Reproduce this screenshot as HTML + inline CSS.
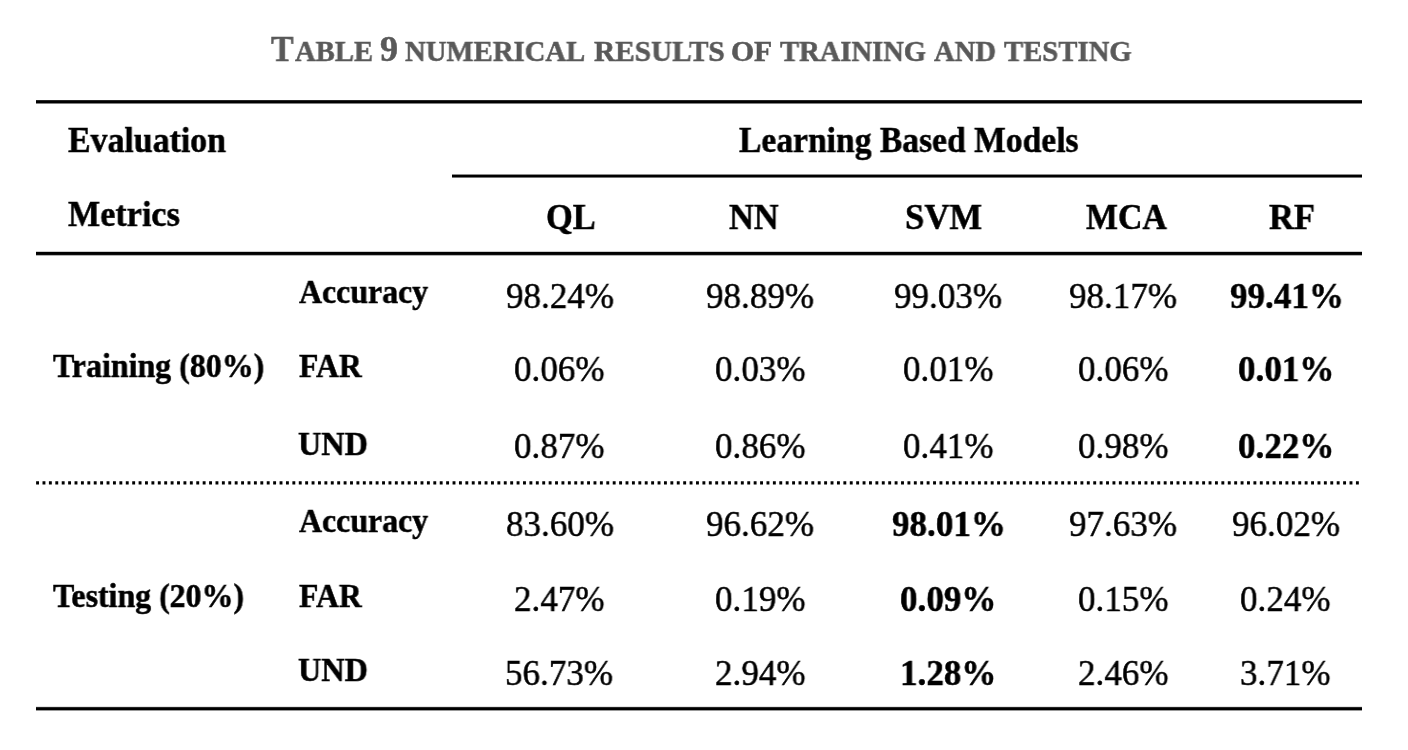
<!DOCTYPE html>
<html><head><meta charset="utf-8"><style>
html,body{margin:0;padding:0;background:#fff;width:1408px;height:750px;overflow:hidden}
body{position:relative}
.t,#title{position:absolute;will-change:transform;-webkit-text-stroke:0.5px currentColor;font-family:"Liberation Serif",serif;line-height:1;white-space:nowrap;transform-origin:0 0;color:#000}
.b{font-weight:bold}
.t.g{color:#595959}
.rule{position:absolute;background:#000}
</style></head><body><div id="wrap">

<div class="rule" style="left:36.0px;top:100px;width:1326.0px;height:4px;background:linear-gradient(to bottom,rgba(0,0,0,0.85) 0px,rgba(0,0,0,0.85) 1px,rgba(0,0,0,1.00) 1px,rgba(0,0,0,1.00) 2px,rgba(0,0,0,1.00) 2px,rgba(0,0,0,1.00) 3px,rgba(0,0,0,0.50) 3px,rgba(0,0,0,0.50) 4px)"></div>
<div class="rule" style="left:452.0px;top:174px;width:910.0px;height:4px;background:linear-gradient(to bottom,rgba(0,0,0,0.45) 0px,rgba(0,0,0,0.45) 1px,rgba(0,0,0,1.00) 1px,rgba(0,0,0,1.00) 2px,rgba(0,0,0,1.00) 2px,rgba(0,0,0,1.00) 3px,rgba(0,0,0,0.55) 3px,rgba(0,0,0,0.55) 4px)"></div>
<div class="rule" style="left:36.0px;top:251px;width:1326.0px;height:5px;background:linear-gradient(to bottom,rgba(0,0,0,0.20) 0px,rgba(0,0,0,0.20) 1px,rgba(0,0,0,1.00) 1px,rgba(0,0,0,1.00) 2px,rgba(0,0,0,1.00) 2px,rgba(0,0,0,1.00) 3px,rgba(0,0,0,0.95) 3px,rgba(0,0,0,0.95) 4px,rgba(0,0,0,0.30) 4px,rgba(0,0,0,0.30) 5px)"></div>
<div class="rule" style="left:36.0px;top:706px;width:1326.0px;height:5px;background:linear-gradient(to bottom,rgba(0,0,0,0.10) 0px,rgba(0,0,0,0.10) 1px,rgba(0,0,0,0.85) 1px,rgba(0,0,0,0.85) 2px,rgba(0,0,0,1.00) 2px,rgba(0,0,0,1.00) 3px,rgba(0,0,0,1.00) 3px,rgba(0,0,0,1.00) 4px,rgba(0,0,0,0.40) 4px,rgba(0,0,0,0.40) 5px)"></div>
<svg style="position:absolute;left:0;top:0" width="1408" height="750"><path fill="#000" d="M36.10 481.3h2.9v3.2h-2.9zM42.51 481.3h2.9v3.2h-2.9zM48.91 481.3h2.9v3.2h-2.9zM55.32 481.3h2.9v3.2h-2.9zM61.73 481.3h2.9v3.2h-2.9zM68.13 481.3h2.9v3.2h-2.9zM74.54 481.3h2.9v3.2h-2.9zM80.95 481.3h2.9v3.2h-2.9zM87.36 481.3h2.9v3.2h-2.9zM93.76 481.3h2.9v3.2h-2.9zM100.17 481.3h2.9v3.2h-2.9zM106.58 481.3h2.9v3.2h-2.9zM112.98 481.3h2.9v3.2h-2.9zM119.39 481.3h2.9v3.2h-2.9zM125.80 481.3h2.9v3.2h-2.9zM132.21 481.3h2.9v3.2h-2.9zM138.61 481.3h2.9v3.2h-2.9zM145.02 481.3h2.9v3.2h-2.9zM151.43 481.3h2.9v3.2h-2.9zM157.83 481.3h2.9v3.2h-2.9zM164.24 481.3h2.9v3.2h-2.9zM170.65 481.3h2.9v3.2h-2.9zM177.05 481.3h2.9v3.2h-2.9zM183.46 481.3h2.9v3.2h-2.9zM189.87 481.3h2.9v3.2h-2.9zM196.28 481.3h2.9v3.2h-2.9zM202.68 481.3h2.9v3.2h-2.9zM209.09 481.3h2.9v3.2h-2.9zM215.50 481.3h2.9v3.2h-2.9zM221.90 481.3h2.9v3.2h-2.9zM228.31 481.3h2.9v3.2h-2.9zM234.72 481.3h2.9v3.2h-2.9zM241.12 481.3h2.9v3.2h-2.9zM247.53 481.3h2.9v3.2h-2.9zM253.94 481.3h2.9v3.2h-2.9zM260.35 481.3h2.9v3.2h-2.9zM266.75 481.3h2.9v3.2h-2.9zM273.16 481.3h2.9v3.2h-2.9zM279.57 481.3h2.9v3.2h-2.9zM285.97 481.3h2.9v3.2h-2.9zM292.38 481.3h2.9v3.2h-2.9zM298.79 481.3h2.9v3.2h-2.9zM305.19 481.3h2.9v3.2h-2.9zM311.60 481.3h2.9v3.2h-2.9zM318.01 481.3h2.9v3.2h-2.9zM324.42 481.3h2.9v3.2h-2.9zM330.82 481.3h2.9v3.2h-2.9zM337.23 481.3h2.9v3.2h-2.9zM343.64 481.3h2.9v3.2h-2.9zM350.04 481.3h2.9v3.2h-2.9zM356.45 481.3h2.9v3.2h-2.9zM362.86 481.3h2.9v3.2h-2.9zM369.26 481.3h2.9v3.2h-2.9zM375.67 481.3h2.9v3.2h-2.9zM382.08 481.3h2.9v3.2h-2.9zM388.49 481.3h2.9v3.2h-2.9zM394.89 481.3h2.9v3.2h-2.9zM401.30 481.3h2.9v3.2h-2.9zM407.71 481.3h2.9v3.2h-2.9zM414.11 481.3h2.9v3.2h-2.9zM420.52 481.3h2.9v3.2h-2.9zM426.93 481.3h2.9v3.2h-2.9zM433.33 481.3h2.9v3.2h-2.9zM439.74 481.3h2.9v3.2h-2.9zM446.15 481.3h2.9v3.2h-2.9zM452.56 481.3h2.9v3.2h-2.9zM458.96 481.3h2.9v3.2h-2.9zM465.37 481.3h2.9v3.2h-2.9zM471.78 481.3h2.9v3.2h-2.9zM478.18 481.3h2.9v3.2h-2.9zM484.59 481.3h2.9v3.2h-2.9zM491.00 481.3h2.9v3.2h-2.9zM497.40 481.3h2.9v3.2h-2.9zM503.81 481.3h2.9v3.2h-2.9zM510.22 481.3h2.9v3.2h-2.9zM516.62 481.3h2.9v3.2h-2.9zM523.03 481.3h2.9v3.2h-2.9zM529.44 481.3h2.9v3.2h-2.9zM535.85 481.3h2.9v3.2h-2.9zM542.25 481.3h2.9v3.2h-2.9zM548.66 481.3h2.9v3.2h-2.9zM555.07 481.3h2.9v3.2h-2.9zM561.47 481.3h2.9v3.2h-2.9zM567.88 481.3h2.9v3.2h-2.9zM574.29 481.3h2.9v3.2h-2.9zM580.70 481.3h2.9v3.2h-2.9zM587.10 481.3h2.9v3.2h-2.9zM593.51 481.3h2.9v3.2h-2.9zM599.92 481.3h2.9v3.2h-2.9zM606.32 481.3h2.9v3.2h-2.9zM612.73 481.3h2.9v3.2h-2.9zM619.14 481.3h2.9v3.2h-2.9zM625.54 481.3h2.9v3.2h-2.9zM631.95 481.3h2.9v3.2h-2.9zM638.36 481.3h2.9v3.2h-2.9zM644.76 481.3h2.9v3.2h-2.9zM651.17 481.3h2.9v3.2h-2.9zM657.58 481.3h2.9v3.2h-2.9zM663.99 481.3h2.9v3.2h-2.9zM670.39 481.3h2.9v3.2h-2.9zM676.80 481.3h2.9v3.2h-2.9zM683.21 481.3h2.9v3.2h-2.9zM689.61 481.3h2.9v3.2h-2.9zM696.02 481.3h2.9v3.2h-2.9zM702.43 481.3h2.9v3.2h-2.9zM708.84 481.3h2.9v3.2h-2.9zM715.24 481.3h2.9v3.2h-2.9zM721.65 481.3h2.9v3.2h-2.9zM728.06 481.3h2.9v3.2h-2.9zM734.46 481.3h2.9v3.2h-2.9zM740.87 481.3h2.9v3.2h-2.9zM747.28 481.3h2.9v3.2h-2.9zM753.68 481.3h2.9v3.2h-2.9zM760.09 481.3h2.9v3.2h-2.9zM766.50 481.3h2.9v3.2h-2.9zM772.90 481.3h2.9v3.2h-2.9zM779.31 481.3h2.9v3.2h-2.9zM785.72 481.3h2.9v3.2h-2.9zM792.13 481.3h2.9v3.2h-2.9zM798.53 481.3h2.9v3.2h-2.9zM804.94 481.3h2.9v3.2h-2.9zM811.35 481.3h2.9v3.2h-2.9zM817.75 481.3h2.9v3.2h-2.9zM824.16 481.3h2.9v3.2h-2.9zM830.57 481.3h2.9v3.2h-2.9zM836.98 481.3h2.9v3.2h-2.9zM843.38 481.3h2.9v3.2h-2.9zM849.79 481.3h2.9v3.2h-2.9zM856.20 481.3h2.9v3.2h-2.9zM862.60 481.3h2.9v3.2h-2.9zM869.01 481.3h2.9v3.2h-2.9zM875.42 481.3h2.9v3.2h-2.9zM881.82 481.3h2.9v3.2h-2.9zM888.23 481.3h2.9v3.2h-2.9zM894.64 481.3h2.9v3.2h-2.9zM901.05 481.3h2.9v3.2h-2.9zM907.45 481.3h2.9v3.2h-2.9zM913.86 481.3h2.9v3.2h-2.9zM920.27 481.3h2.9v3.2h-2.9zM926.67 481.3h2.9v3.2h-2.9zM933.08 481.3h2.9v3.2h-2.9zM939.49 481.3h2.9v3.2h-2.9zM945.89 481.3h2.9v3.2h-2.9zM952.30 481.3h2.9v3.2h-2.9zM958.71 481.3h2.9v3.2h-2.9zM965.12 481.3h2.9v3.2h-2.9zM971.52 481.3h2.9v3.2h-2.9zM977.93 481.3h2.9v3.2h-2.9zM984.34 481.3h2.9v3.2h-2.9zM990.74 481.3h2.9v3.2h-2.9zM997.15 481.3h2.9v3.2h-2.9zM1003.56 481.3h2.9v3.2h-2.9zM1009.96 481.3h2.9v3.2h-2.9zM1016.37 481.3h2.9v3.2h-2.9zM1022.78 481.3h2.9v3.2h-2.9zM1029.18 481.3h2.9v3.2h-2.9zM1035.59 481.3h2.9v3.2h-2.9zM1042.00 481.3h2.9v3.2h-2.9zM1048.41 481.3h2.9v3.2h-2.9zM1054.81 481.3h2.9v3.2h-2.9zM1061.22 481.3h2.9v3.2h-2.9zM1067.63 481.3h2.9v3.2h-2.9zM1074.03 481.3h2.9v3.2h-2.9zM1080.44 481.3h2.9v3.2h-2.9zM1086.85 481.3h2.9v3.2h-2.9zM1093.25 481.3h2.9v3.2h-2.9zM1099.66 481.3h2.9v3.2h-2.9zM1106.07 481.3h2.9v3.2h-2.9zM1112.48 481.3h2.9v3.2h-2.9zM1118.88 481.3h2.9v3.2h-2.9zM1125.29 481.3h2.9v3.2h-2.9zM1131.70 481.3h2.9v3.2h-2.9zM1138.10 481.3h2.9v3.2h-2.9zM1144.51 481.3h2.9v3.2h-2.9zM1150.92 481.3h2.9v3.2h-2.9zM1157.32 481.3h2.9v3.2h-2.9zM1163.73 481.3h2.9v3.2h-2.9zM1170.14 481.3h2.9v3.2h-2.9zM1176.55 481.3h2.9v3.2h-2.9zM1182.95 481.3h2.9v3.2h-2.9zM1189.36 481.3h2.9v3.2h-2.9zM1195.77 481.3h2.9v3.2h-2.9zM1202.17 481.3h2.9v3.2h-2.9zM1208.58 481.3h2.9v3.2h-2.9zM1214.99 481.3h2.9v3.2h-2.9zM1221.39 481.3h2.9v3.2h-2.9zM1227.80 481.3h2.9v3.2h-2.9zM1234.21 481.3h2.9v3.2h-2.9zM1240.62 481.3h2.9v3.2h-2.9zM1247.02 481.3h2.9v3.2h-2.9zM1253.43 481.3h2.9v3.2h-2.9zM1259.84 481.3h2.9v3.2h-2.9zM1266.24 481.3h2.9v3.2h-2.9zM1272.65 481.3h2.9v3.2h-2.9zM1279.06 481.3h2.9v3.2h-2.9zM1285.46 481.3h2.9v3.2h-2.9zM1291.87 481.3h2.9v3.2h-2.9zM1298.28 481.3h2.9v3.2h-2.9zM1304.69 481.3h2.9v3.2h-2.9zM1311.09 481.3h2.9v3.2h-2.9zM1317.50 481.3h2.9v3.2h-2.9zM1323.91 481.3h2.9v3.2h-2.9zM1330.31 481.3h2.9v3.2h-2.9zM1336.72 481.3h2.9v3.2h-2.9zM1343.13 481.3h2.9v3.2h-2.9zM1349.53 481.3h2.9v3.2h-2.9zM1355.94 481.3h2.9v3.2h-2.9z"/></svg>
<div class="t b g" style="left:270.83px;top:32.00px;font-size:35.75px;transform:scaleX(0.9439)">T</div>
<div class="t b g" style="left:295.46px;top:37.00px;font-size:29.50px;transform:scaleX(0.9713)">ABLE</div>
<div class="t b g" style="left:380.05px;top:32.00px;font-size:35.75px;transform:scaleX(1.0105)">9</div>
<div class="t b g" style="left:405.27px;top:37.00px;font-size:29.50px;transform:scaleX(0.9731)">NUMERICAL</div>
<div class="t b g" style="left:593.61px;top:37.00px;font-size:29.50px;transform:scaleX(0.9924)">RESULTS</div>
<div class="t b g" style="left:730.77px;top:37.00px;font-size:29.50px;transform:scaleX(1.0077)">OF</div>
<div class="t b g" style="left:780.41px;top:37.00px;font-size:29.50px;transform:scaleX(0.9689)">TRAINING</div>
<div class="t b g" style="left:933.96px;top:37.00px;font-size:29.50px;transform:scaleX(0.9722)">AND</div>
<div class="t b g" style="left:1003.66px;top:37.00px;font-size:29.50px;transform:scaleX(0.9732)">TESTING</div>
<div class="t b" style="left:68.03px;top:123.00px;font-size:35.75px;transform:scaleX(0.9470)">Evaluation</div>
<div class="t b" style="left:68.03px;top:197.00px;font-size:35.75px;transform:scaleX(0.9548)">Metrics</div>
<div class="t b" style="left:738.63px;top:123.00px;font-size:35.75px;transform:scaleX(0.9393)">Learning Based Models</div>
<div class="t b" style="left:545.62px;top:200.00px;font-size:35.75px;transform:scaleX(0.9644)">QL</div>
<div class="t b" style="left:728.75px;top:200.00px;font-size:35.75px;transform:scaleX(0.9625)">NN</div>
<div class="t b" style="left:904.54px;top:200.00px;font-size:35.75px;transform:scaleX(0.9688)">SVM</div>
<div class="t b" style="left:1086.13px;top:200.00px;font-size:35.75px;transform:scaleX(0.9477)">MCA</div>
<div class="t b" style="left:1268.92px;top:200.00px;font-size:35.75px;transform:scaleX(0.9673)">RF</div>
<div class="t b" style="left:298.92px;top:275.00px;font-size:33.50px;transform:scaleX(0.9508)">Accuracy</div>
<div class="t b" style="left:298.76px;top:349.00px;font-size:33.50px;transform:scaleX(0.9451)">FAR</div>
<div class="t b" style="left:298.43px;top:427.00px;font-size:33.50px;transform:scaleX(0.9620)">UND</div>
<div class="t b" style="left:298.92px;top:504.00px;font-size:33.50px;transform:scaleX(0.9508)">Accuracy</div>
<div class="t b" style="left:298.76px;top:579.00px;font-size:33.50px;transform:scaleX(0.9451)">FAR</div>
<div class="t b" style="left:298.43px;top:653.00px;font-size:33.50px;transform:scaleX(0.9620)">UND</div>
<div class="t b" style="left:52.96px;top:349.00px;font-size:33.50px;transform:scaleX(0.9522)">Training (80%)</div>
<div class="t b" style="left:52.96px;top:579.00px;font-size:33.50px;transform:scaleX(0.9522)">Testing (20%)</div>
<div class="t" style="left:505.81px;top:278.00px;font-size:36.50px;transform:scaleX(0.9587)">98.24%</div>
<div class="t" style="left:706.21px;top:278.00px;font-size:36.50px;transform:scaleX(0.9587)">98.89%</div>
<div class="t" style="left:894.41px;top:278.00px;font-size:36.50px;transform:scaleX(0.9587)">99.03%</div>
<div class="t" style="left:1069.41px;top:278.00px;font-size:36.50px;transform:scaleX(0.9587)">98.17%</div>
<div class="t b" style="left:1229.86px;top:278.00px;font-size:36.50px;transform:scaleX(0.9587)">99.41%</div>
<div class="t" style="left:514.38px;top:351.00px;font-size:36.50px;transform:scaleX(0.9587)">0.06%</div>
<div class="t" style="left:714.78px;top:351.00px;font-size:36.50px;transform:scaleX(0.9587)">0.03%</div>
<div class="t" style="left:902.98px;top:351.00px;font-size:36.50px;transform:scaleX(0.9587)">0.01%</div>
<div class="t" style="left:1077.98px;top:351.00px;font-size:36.50px;transform:scaleX(0.9587)">0.06%</div>
<div class="t b" style="left:1238.35px;top:351.00px;font-size:36.50px;transform:scaleX(0.9587)">0.01%</div>
<div class="t" style="left:514.38px;top:428.00px;font-size:36.50px;transform:scaleX(0.9587)">0.87%</div>
<div class="t" style="left:714.78px;top:428.00px;font-size:36.50px;transform:scaleX(0.9587)">0.86%</div>
<div class="t" style="left:902.98px;top:428.00px;font-size:36.50px;transform:scaleX(0.9587)">0.41%</div>
<div class="t" style="left:1077.98px;top:428.00px;font-size:36.50px;transform:scaleX(0.9587)">0.98%</div>
<div class="t b" style="left:1238.35px;top:428.00px;font-size:36.50px;transform:scaleX(0.9587)">0.22%</div>
<div class="t" style="left:505.64px;top:506.00px;font-size:36.50px;transform:scaleX(0.9587)">83.60%</div>
<div class="t" style="left:706.21px;top:506.00px;font-size:36.50px;transform:scaleX(0.9587)">96.62%</div>
<div class="t b" style="left:891.76px;top:506.00px;font-size:36.50px;transform:scaleX(0.9587)">98.01%</div>
<div class="t" style="left:1069.41px;top:506.00px;font-size:36.50px;transform:scaleX(0.9587)">97.63%</div>
<div class="t" style="left:1231.61px;top:506.00px;font-size:36.50px;transform:scaleX(0.9587)">96.02%</div>
<div class="t" style="left:514.30px;top:581.00px;font-size:36.50px;transform:scaleX(0.9587)">2.47%</div>
<div class="t" style="left:714.78px;top:581.00px;font-size:36.50px;transform:scaleX(0.9587)">0.19%</div>
<div class="t b" style="left:900.25px;top:581.00px;font-size:36.50px;transform:scaleX(0.9587)">0.09%</div>
<div class="t" style="left:1077.98px;top:581.00px;font-size:36.50px;transform:scaleX(0.9587)">0.15%</div>
<div class="t" style="left:1240.18px;top:581.00px;font-size:36.50px;transform:scaleX(0.9587)">0.24%</div>
<div class="t" style="left:505.29px;top:655.00px;font-size:36.50px;transform:scaleX(0.9587)">56.73%</div>
<div class="t" style="left:714.70px;top:655.00px;font-size:36.50px;transform:scaleX(0.9587)">2.94%</div>
<div class="t b" style="left:899.55px;top:655.00px;font-size:36.50px;transform:scaleX(0.9587)">1.28%</div>
<div class="t" style="left:1077.90px;top:655.00px;font-size:36.50px;transform:scaleX(0.9587)">2.46%</div>
<div class="t" style="left:1240.01px;top:655.00px;font-size:36.50px;transform:scaleX(0.9587)">3.71%</div>
</div></body></html>
